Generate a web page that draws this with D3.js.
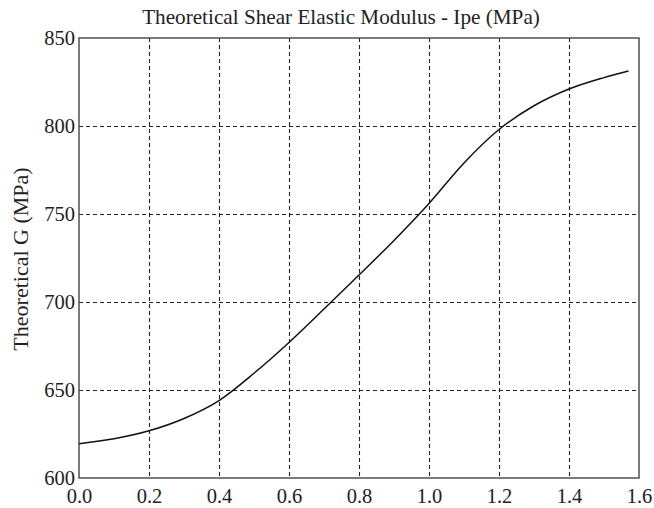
<!DOCTYPE html>
<html><head><meta charset="utf-8">
<script src="https://cdn.jsdelivr.net/npm/d3@7"></script>
<style>body{margin:0;background:#fff}svg{display:block}text{font-family:"Liberation Serif","Times New Roman",Times,serif}</style>
</head><body>
<script>
const titleText = "Theoretical Shear Elastic Modulus - Ipe (MPa)";
const yLabel = "Theoretical G (MPa)";
const xValues = [0, 0.1, 0.2, 0.3, 0.4, 0.5, 0.6, 0.7, 0.8, 0.9, 1.0, 1.1, 1.2, 1.3, 1.4, 1.5, 1.57];
const gValues = [619.5, 622.3, 626.8, 633.8, 644, 659.5, 677, 696, 715.3, 735, 756, 779, 798, 811.5, 821, 827.5, 831.3];
const xTicks = [0, 0.2, 0.4, 0.6, 0.8, 1.0, 1.2, 1.4, 1.6];
const yTicks = [600, 650, 700, 750, 800, 850];

const W = 654, H = 508;
const m = {left: 79, right: 15, top: 38, bottom: 30};
const svg = d3.select("body").append("svg").attr("width", W).attr("height", H);

const x = d3.scaleLinear().domain([0, 1.6]).range([m.left, W - m.right]);
const y = d3.scaleLinear().domain([600, 850]).range([H - m.bottom, m.top]);

// grid
const grid = svg.append("g").attr("stroke", "#222").attr("stroke-width", 1.1).attr("stroke-dasharray", "4,3");
grid.selectAll("line.v").data(xTicks.slice(1, -1)).join("line")
  .attr("x1", d => Math.round(x(d)) + 0.5).attr("x2", d => Math.round(x(d)) + 0.5)
  .attr("y1", y(850)).attr("y2", y(600));
grid.selectAll("line.h").data(yTicks.slice(1, -1)).join("line")
  .attr("y1", d => Math.round(y(d)) + 0.5).attr("y2", d => Math.round(y(d)) + 0.5)
  .attr("x1", x(0)).attr("x2", x(1.6));

// axes
const xAxis = d3.axisBottom(x).tickValues(xTicks).tickFormat(d3.format(".1f")).tickSize(0).tickPadding(10);
const yAxis = d3.axisLeft(y).tickValues(yTicks).tickFormat(d3.format("d")).tickSize(0).tickPadding(4);
const gx = svg.append("g").attr("transform", `translate(0,${y(600)})`).call(xAxis);
const gy = svg.append("g").attr("transform", `translate(${x(0)},0)`).call(yAxis);
[gx, gy].forEach(g => {
  g.select(".domain").remove();
  g.attr("font-family", null);
  g.selectAll("text").attr("font-size", 20.5).attr("fill", "#222");
});
gy.selectAll("text").attr("dy", "0.3em");

// frame
svg.append("rect").attr("x", x(0)).attr("y", y(850))
  .attr("width", x(1.6) - x(0)).attr("height", y(600) - y(850))
  .attr("fill", "none").attr("stroke", "#444").attr("stroke-width", 1.4);

// curve
const data = xValues.map((v, i) => [v, gValues[i]]);
svg.append("path").datum(data)
  .attr("fill", "none").attr("stroke", "#111").attr("stroke-width", 1.5)
  .attr("d", d3.line().x(d => x(d[0])).y(d => y(d[1])).curve(d3.curveMonotoneX));

// title
svg.append("text").attr("x", 341).attr("y", 24)
  .attr("text-anchor", "middle").attr("font-size", 21.2).attr("fill", "#222")
  .text(titleText);

// y label
svg.append("text").attr("transform", `translate(28,259) rotate(-90)`)
  .attr("text-anchor", "middle").attr("font-size", 22).attr("fill", "#222")
  .text(yLabel);
</script>
</body></html>
